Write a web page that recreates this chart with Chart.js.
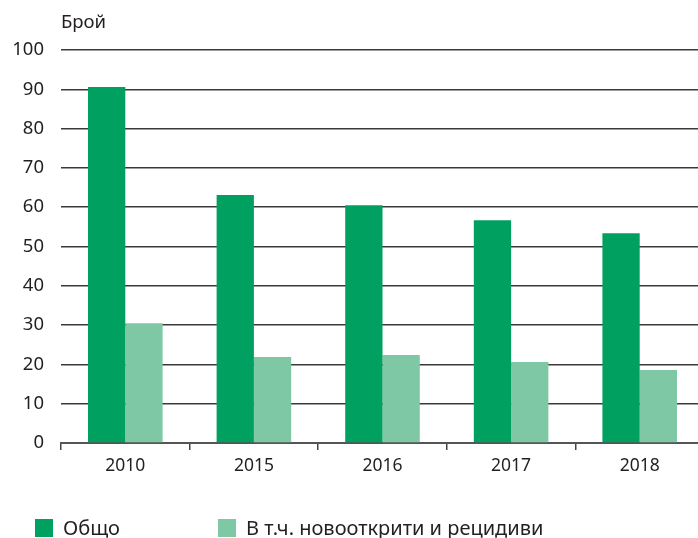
<!DOCTYPE html>
<html>
<head>
<meta charset="utf-8">
<script src="https://cdn.jsdelivr.net/npm/chart.js@4"></script>
<style>
    body { margin: 0; background: #fff; font-family: "Noto Sans", sans-serif; color: #231f20; overflow: hidden; }
    #wrap { position: relative; width: 698px; height: 538px; overflow: hidden; }
    #legend { position: absolute; left: 35px; top: 517px; display: flex; font-size: 20px; line-height: 22px; }
    #legend .item { display: flex; align-items: center; }
    #legend .box { width: 18px; height: 18px; margin-right: 10px; }
</style>
</head>
<body>
<div id="wrap">
    <canvas id="chart" width="704" height="538"></canvas>
    <div id="legend"></div>
</div>
<script>
var years = ['2010', '2015', '2016', '2017', '2018'];
var totalData = [90.6, 63.1, 60.5, 56.7, 53.4];
var newRecData = [30.5, 21.9, 22.4, 20.6, 18.6];
var seriesNames = ['Общо', 'В т.ч. новооткрити и рецидиви'];
var seriesColors = ['#00a160', '#7fc8a6'];
var yMin = 0, yMax = 100, yStep = 10;
var unitLabel = 'Брой';

var textColor = '#231f20';

// draws the "Брой" caption above the y axis
var unitPlugin = {
    id: 'unitLabel',
    afterDraw: function(chart) {
        var ctx = chart.ctx;
        ctx.save();
        ctx.font = '18.5px "Noto Sans"';
        ctx.fillStyle = textColor;
        ctx.textBaseline = 'middle';
        ctx.fillText(unitLabel, chart.chartArea.left, 23);
        ctx.restore();
    }
};

var ctx = document.getElementById('chart').getContext('2d');
var chart = new Chart(ctx, {
    type: 'bar',
    data: {
        labels: years,
        datasets: [{
            label: seriesNames[0],
            data: totalData,
            backgroundColor: seriesColors[0],
            categoryPercentage: 0.58,
            barPercentage: 1.0
        }, {
            label: seriesNames[1],
            data: newRecData,
            backgroundColor: seriesColors[1],
            categoryPercentage: 0.58,
            barPercentage: 1.0
        }]
    },
    options: {
        responsive: false,
        animation: false,
        layout: { padding: { top: 50, right: 0, bottom: 55, left: 0 } },
        plugins: {
            legend: { display: false },
            tooltip: { enabled: false }
        },
        scales: {
            x: {
                offset: true,
                grid: {
                    offset: true,
                    drawOnChartArea: false,
                    drawTicks: true,
                    tickLength: 7,
                    color: '#444',
                    lineWidth: 1.5
                },
                border: { display: true, color: '#555', width: 2 },
                ticks: {
                    color: textColor,
                    font: { family: 'Noto Sans', size: 17.5 },
                    padding: 6
                }
            },
            y: {
                min: yMin,
                max: yMax,
                afterFit: function(scale) { scale.width = 61; },
                ticks: {
                    stepSize: yStep,
                    color: textColor,
                    font: { family: 'Noto Sans', size: 18.5 },
                    padding: 17
                },
                grid: {
                    drawTicks: false,
                    color: '#3a3a3a',
                    lineWidth: 1.5
                },
                border: { display: false }
            }
        }
    },
    plugins: [unitPlugin]
});

// html legend from the datasets
var legend = document.getElementById('legend');
chart.data.datasets.forEach(function(ds, i) {
    var item = document.createElement('div');
    item.className = 'item';
    item.style.width = i == 0 ? '183px' : 'auto';
    var box = document.createElement('span');
    box.className = 'box';
    box.style.background = ds.backgroundColor;
    var txt = document.createElement('span');
    txt.textContent = ds.label;
    item.appendChild(box);
    item.appendChild(txt);
    legend.appendChild(item);
});
</script>
</body>
</html>
